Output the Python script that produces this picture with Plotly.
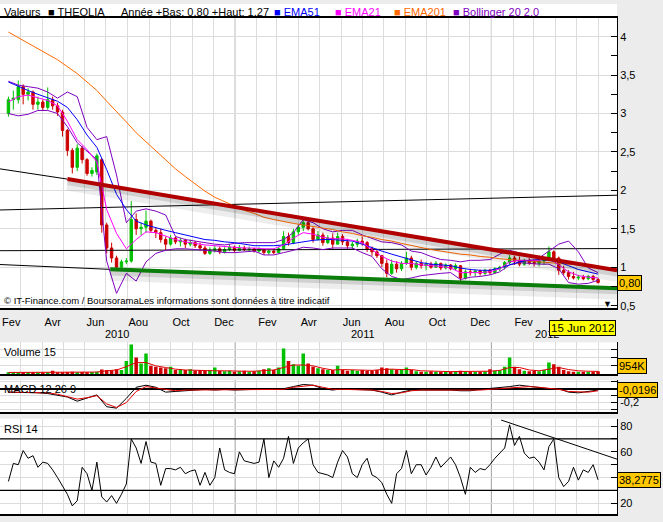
import pandas as pd
import plotly.graph_objects as go

# weekly bars (friday), indicators sampled every 2 weeks
week_dates = pd.date_range("2010-02-12", periods=121, freq="7D")
ind_dates = week_dates[::2]

opens = [3.00, 3.18, 3.18, 3.35, 3.25, 3.28, 3.12, 3.15, 3.08, 3.18,
         3.10, 3.02, 2.78, 2.52, 2.30, 2.55, 2.40, 2.22, 2.24, 2.40,
         1.55, 1.25, 1.12, 1.00, 1.07, 1.08, 1.62, 1.50, 1.52, 1.60,
         1.48, 1.45, 1.36, 1.30, 1.38, 1.33, 1.35, 1.30, 1.32, 1.28,
         1.25, 1.18, 1.22, 1.24, 1.20, 1.23, 1.26, 1.22, 1.25, 1.23,
         1.24, 1.21, 1.23, 1.19, 1.21, 1.19, 1.24, 1.40, 1.32, 1.46,
         1.52, 1.58, 1.50, 1.36, 1.42, 1.32, 1.38, 1.30, 1.40, 1.33,
         1.28, 1.30, 1.34, 1.32, 1.24, 1.20, 1.15, 1.05, 0.92, 1.04,
         0.98, 1.05, 1.12, 1.00, 1.05, 1.02, 1.04, 1.00, 1.05, 0.99,
         1.03, 0.98, 1.02, 0.86, 0.94, 0.93, 0.95, 0.92, 0.96, 0.93,
         0.98, 1.00, 1.06, 1.12, 1.08, 1.04, 1.09, 1.06, 1.05, 1.08,
         1.10, 1.20, 1.12, 0.96, 0.93, 0.88, 0.86, 0.87, 0.85, 0.88, 0.84]
highs = [3.22, 3.30, 3.43, 3.38, 3.33, 3.30, 3.22, 3.18, 3.34, 3.22,
         3.14, 3.05, 2.80, 2.55, 2.60, 2.58, 2.42, 2.30, 2.48, 2.42,
         1.58, 1.32, 1.15, 1.10, 1.12, 1.86, 1.70, 1.58, 1.74, 1.62,
         1.52, 1.50, 1.40, 1.42, 1.40, 1.38, 1.37, 1.36, 1.34, 1.32,
         1.28, 1.26, 1.28, 1.27, 1.26, 1.30, 1.28, 1.29, 1.28, 1.27,
         1.25, 1.26, 1.24, 1.23, 1.24, 1.26, 1.47, 1.45, 1.50, 1.56,
         1.62, 1.63, 1.52, 1.47, 1.45, 1.42, 1.44, 1.45, 1.43, 1.37,
         1.33, 1.37, 1.40, 1.34, 1.27, 1.24, 1.16, 1.10, 1.10, 1.08,
         1.08, 1.20, 1.15, 1.08, 1.10, 1.07, 1.07, 1.08, 1.06, 1.05,
         1.04, 1.05, 1.03, 0.97, 0.98, 0.97, 0.97, 0.98, 0.98, 1.00,
         1.02, 1.08, 1.16, 1.15, 1.14, 1.11, 1.12, 1.10, 1.10, 1.13,
         1.27, 1.22, 1.14, 1.02, 0.96, 0.94, 0.90, 0.90, 0.90, 0.90, 0.86]
lows = [2.96, 3.05, 3.13, 3.12, 3.17, 3.05, 3.05, 3.04, 3.05, 3.05,
        2.97, 2.70, 2.45, 2.22, 2.25, 2.35, 2.19, 2.18, 2.20, 1.45,
        1.18, 1.06, 0.97, 0.99, 1.04, 1.06, 1.42, 1.42, 1.45, 1.45,
        1.38, 1.32, 1.22, 1.28, 1.30, 1.27, 1.25, 1.27, 1.25, 1.22,
        1.16, 1.16, 1.19, 1.17, 1.18, 1.21, 1.19, 1.21, 1.21, 1.21,
        1.19, 1.19, 1.16, 1.16, 1.17, 1.18, 1.23, 1.28, 1.30, 1.42,
        1.47, 1.48, 1.32, 1.35, 1.28, 1.30, 1.24, 1.30, 1.29, 1.24,
        1.23, 1.26, 1.28, 1.20, 1.15, 1.12, 1.00, 0.87, 0.90, 0.93,
        0.95, 1.03, 0.96, 0.97, 0.98, 0.96, 0.98, 0.99, 0.96, 0.97,
        0.96, 0.96, 0.80, 0.84, 0.89, 0.88, 0.89, 0.90, 0.90, 0.92,
        0.95, 0.97, 1.04, 1.03, 1.01, 1.02, 1.03, 1.01, 1.01, 1.03,
        1.08, 1.08, 0.90, 0.90, 0.84, 0.84, 0.83, 0.83, 0.83, 0.82, 0.79]
closes = [3.18, 3.20, 3.35, 3.25, 3.28, 3.12, 3.15, 3.08, 3.18, 3.10,
          3.02, 2.78, 2.52, 2.30, 2.55, 2.40, 2.22, 2.26, 2.45, 1.55,
          1.25, 1.12, 1.00, 1.07, 1.08, 1.62, 1.50, 1.52, 1.60, 1.48,
          1.45, 1.36, 1.30, 1.38, 1.33, 1.35, 1.30, 1.32, 1.28, 1.25,
          1.18, 1.22, 1.24, 1.20, 1.23, 1.26, 1.22, 1.25, 1.23, 1.24,
          1.21, 1.23, 1.19, 1.21, 1.19, 1.24, 1.40, 1.32, 1.46, 1.52,
          1.58, 1.50, 1.36, 1.42, 1.32, 1.38, 1.30, 1.40, 1.33, 1.28,
          1.30, 1.34, 1.32, 1.24, 1.20, 1.15, 1.05, 0.92, 1.04, 0.98,
          1.05, 1.12, 1.00, 1.05, 1.02, 1.04, 1.00, 1.05, 0.99, 1.03,
          0.98, 1.02, 0.86, 0.94, 0.93, 0.95, 0.92, 0.96, 0.93, 0.98,
          1.00, 1.06, 1.12, 1.08, 1.04, 1.09, 1.06, 1.05, 1.08, 1.10,
          1.20, 1.12, 0.96, 0.93, 0.88, 0.86, 0.87, 0.85, 0.88, 0.84, 0.80]

volume_k = [150, 200, 150, 200, 150, 150, 200, 150, 200, 400,
            200, 200, 250, 300, 200, 250, 200, 250, 300, 550,
            500, 450, 600, 500, 1600, 3600, 2000, 1300, 2500, 1000,
            900, 800, 700, 900, 500, 600, 500, 600, 450, 500,
            400, 500, 800, 400, 350, 400, 300, 350, 400, 300,
            350, 400, 600, 700, 500, 800, 3100, 1600, 1200, 1000,
            2500, 1300, 900, 700, 600, 500, 500, 1000, 500, 400,
            500, 400, 500, 400, 450, 500, 800, 700, 600, 500,
            600, 800, 500, 350, 300, 300, 350, 300, 250, 300,
            300, 250, 400, 350, 300, 300, 300, 350, 600, 400,
            500, 900, 2000, 900, 600, 400, 350, 400, 350, 500,
            1400, 1200, 900, 500, 350, 300, 300, 300, 300, 300, 350]

rsi14 = [37, 51, 50, 61, 55, 57, 48, 52, 51, 46,
         40, 34, 27, 18, 22, 48, 43, 30, 52, 25,
         21, 26, 20, 27, 35, 70, 63, 51, 68, 52,
         51, 34, 47, 47, 46, 48, 43, 45, 46, 34,
         44, 34, 40, 63, 46, 44, 43, 60, 53, 52,
         51, 52, 70, 40, 53, 48, 55, 72, 51, 63,
         67, 70, 50, 44, 43, 42, 40, 52, 61, 56,
         43, 40, 50, 55, 42, 40, 36, 27, 20, 43,
         47, 61, 43, 50, 50, 42, 48, 56, 48, 52,
         56, 50, 40, 27, 48, 44, 47, 46, 50, 55,
         59, 63, 81, 65, 72, 59, 55, 56, 52, 46,
         64, 70, 40, 33, 37, 48, 38, 46, 44, 50, 38.28]

ema201 = [4.06, 3.99, 3.91, 3.85, 3.78, 3.70, 3.61, 3.52, 3.41, 3.30,
          3.16, 3.03, 2.89, 2.75, 2.63, 2.51, 2.39, 2.28, 2.18, 2.08,
          1.99, 1.91, 1.85, 1.79, 1.74, 1.70, 1.65, 1.62, 1.59, 1.57,
          1.55, 1.53, 1.51, 1.49, 1.46, 1.44, 1.41, 1.39, 1.36, 1.34,
          1.31, 1.28, 1.26, 1.23, 1.21, 1.19, 1.17, 1.16, 1.14, 1.13,
          1.11, 1.10, 1.09, 1.08, 1.07, 1.06, 1.05, 1.04, 1.03, 1.03, 1.02]
ema51 = [3.41, 3.35, 3.30, 3.25, 3.21, 3.16, 3.08, 2.92, 2.72, 2.56,
         2.27, 1.95, 1.75, 1.60, 1.55, 1.51, 1.48, 1.45, 1.42, 1.39,
         1.36, 1.35, 1.33, 1.32, 1.30, 1.28, 1.28, 1.28, 1.29, 1.31,
         1.33, 1.35, 1.36, 1.36, 1.35, 1.34, 1.30, 1.25, 1.21, 1.17,
         1.13, 1.09, 1.06, 1.04, 1.03, 1.02, 0.99, 0.97, 0.96, 0.96,
         0.99, 1.03, 1.07, 1.09, 1.10, 1.09, 1.07, 1.02, 0.97, 0.94, 0.91]
ema21 = [3.15, 3.22, 3.24, 3.20, 3.17, 3.10, 2.90, 2.66, 2.53, 2.37,
         1.75, 1.44, 1.24, 1.36, 1.46, 1.45, 1.40, 1.36, 1.33, 1.31,
         1.29, 1.28, 1.27, 1.26, 1.25, 1.25, 1.24, 1.24, 1.29, 1.38,
         1.45, 1.43, 1.39, 1.37, 1.37, 1.35, 1.32, 1.23, 1.14, 1.08,
         1.05, 1.05, 1.03, 1.02, 1.01, 0.99, 0.93, 0.93, 0.93, 0.94,
         0.98, 1.07, 1.09, 1.09, 1.09, 1.12, 1.03, 0.94, 0.89, 0.87, 0.86]
boll_up = [3.42, 3.37, 3.35, 3.33, 3.28, 3.20, 3.28, 3.22, 2.82, 2.66,
           2.70, 2.20, 1.58, 1.73, 1.76, 1.73, 1.68, 1.40, 1.36, 1.34,
           1.32, 1.30, 1.29, 1.31, 1.32, 1.32, 1.32, 1.32, 1.36, 1.45,
           1.62, 1.58, 1.50, 1.46, 1.48, 1.48, 1.42, 1.37, 1.33, 1.32,
           1.29, 1.21, 1.19, 1.14, 1.10, 1.09, 1.07, 1.09, 1.09, 1.10,
           1.17, 1.22, 1.19, 1.15, 1.12, 1.21, 1.30, 1.34, 1.20, 0.99, 0.93]
boll_low = [3.00, 2.97, 2.99, 3.04, 3.04, 3.00, 2.83, 2.62, 2.51, 2.40,
            1.08, 0.66, 0.92, 0.82, 1.07, 1.18, 1.22, 1.24, 1.24, 1.23,
            1.22, 1.21, 1.19, 1.19, 1.20, 1.21, 1.16, 1.16, 1.19, 1.22,
            1.26, 1.25, 1.23, 1.25, 1.25, 1.25, 1.19, 1.14, 0.98, 0.88,
            0.84, 0.86, 0.89, 0.91, 0.92, 0.93, 0.84, 0.87, 0.88, 0.90,
            0.94, 1.03, 1.06, 1.05, 1.04, 1.04, 0.98, 0.80, 0.78, 0.79, 0.83]
vol_ma_k = [200, 200, 200, 200, 200, 200, 200, 200, 220, 250,
            400, 500, 900, 1400, 1400, 1000, 800, 600, 500, 450,
            400, 400, 400, 350, 350, 350, 400, 500, 800, 1100,
            1100, 1000, 700, 500, 550, 500, 450, 450, 550, 600,
            550, 550, 400, 350, 300, 300, 320, 300, 300, 350,
            450, 800, 800, 500, 400, 600, 800, 550, 400, 350, 330]
macd_line = [-0.05, -0.05, -0.06, -0.06, -0.07, -0.09, -0.12, -0.18, -0.13, -0.09,
             -0.26, -0.28, -0.14, 0.02, 0.05, 0.02, -0.05, -0.04, -0.02, -0.01,
             -0.01, -0.02, -0.01, -0.02, -0.01, -0.01, -0.01, -0.01, 0.0, 0.03,
             0.06, 0.05, 0.0, -0.02, 0.0, -0.01, -0.01, -0.02, -0.05, -0.09,
             -0.05, -0.02, -0.02, -0.02, -0.01, -0.02, -0.03, -0.03, -0.01, 0.0,
             0.01, 0.03, 0.05, 0.03, 0.01, 0.0, 0.0, -0.05, -0.06, -0.04, -0.0196]
macd_signal = [-0.05, -0.05, -0.05, -0.06, -0.06, -0.08, -0.12, -0.15, -0.13, -0.10,
               -0.22, -0.27, -0.20, -0.04, 0.03, 0.01, -0.02, -0.03, -0.02, -0.02,
               -0.01, -0.01, -0.01, -0.02, -0.01, -0.01, -0.01, -0.01, -0.01, 0.02,
               0.04, 0.05, 0.02, -0.01, -0.01, -0.01, -0.01, -0.02, -0.04, -0.07,
               -0.06, -0.03, -0.02, -0.02, -0.02, -0.02, -0.02, -0.03, -0.02, -0.01,
               0.0, 0.02, 0.03, 0.03, 0.02, 0.01, -0.01, -0.04, -0.05, -0.05, -0.03]

# hand drawn lines on the chart
red_trend_dates = ["2010-05-07", "2012-06-28"]
red_trend_vals = [2.147, 0.959]
red_ext_dates = ["2010-01-31", "2010-05-07"]
red_ext_vals = [2.28, 2.147]
green_trend_dates = ["2010-07-07", "2012-06-28"]
green_trend_vals = [0.972, 0.726]
green_ext_dates = ["2010-01-31", "2010-07-07"]
green_ext_vals = [1.035, 0.972]
level_dates = ["2010-01-31", "2012-06-28"]
level_high_vals = [1.745, 1.937]
level_mid_vals = [1.215, 1.243]
rsi_trend_dates = ["2012-01-15", "2012-06-28"]
rsi_trend_vals = [84.7, 54.3]

x_range = ["2010-01-31", "2012-06-28"]
year_starts = ["2011-01-01", "2012-01-01"]
month_names = {2: "Fev", 4: "Avr", 6: "Jun", 8: "Aou", 10: "Oct", 12: "Dec"}
label_months = pd.date_range("2010-02-01", "2012-04-01", freq="2MS")
label_dates = label_months + pd.Timedelta(days=15)
label_text = [month_names[d.month] for d in label_months]

FONT = "Liberation Sans"
up_col, down_col = "#00c000", "#cc0000"
vol_colors = [up_col if c >= o else down_col for o, c in zip(opens, closes)]

fig = go.Figure()


def line(x, y, color, width=1, xa="x", ya="y"):
    fig.add_trace(go.Scatter(x=x, y=y, mode="lines", xaxis=xa, yaxis=ya,
                             line=dict(color=color, width=width), hoverinfo="skip"))


# level lines and extensions
line(level_dates, level_high_vals, "black")
line(level_dates, level_mid_vals, "black")
line(red_ext_dates, red_ext_vals, "black")
line(green_ext_dates, green_ext_vals, "black")

# indicators
line(ind_dates, boll_up, "#8000c0")
line(ind_dates, boll_low, "#8000c0")
line(ind_dates, ema201, "#ff6a00")
line(ind_dates, ema51, "#0000ff")
line(ind_dates, ema21, "#ff00ff")

fig.add_trace(go.Candlestick(
    x=week_dates, open=opens, high=highs, low=lows, close=closes,
    increasing=dict(line=dict(color=up_col, width=1), fillcolor=up_col),
    decreasing=dict(line=dict(color=down_col, width=1), fillcolor=down_col),
    whiskerwidth=0, hoverinfo="skip"))

# trend lines with a soft shadow
for dates, vals, col in [(red_trend_dates, red_trend_vals, "#b00000"),
                         (green_trend_dates, green_trend_vals, "#0a7d0a")]:
    line(dates, [v - 0.07 for v in vals], "rgba(0,0,0,0.07)", 12)
    line(dates, [v - 0.04 for v in vals], "rgba(0,0,0,0.12)", 6)
    line(dates, vals, col, 4)

# volume
fig.add_trace(go.Bar(x=week_dates, y=volume_k, marker=dict(color=vol_colors, line_width=0),
                     width=5 * 86400000, xaxis="x2", yaxis="y2", hoverinfo="skip"))
line(ind_dates, vol_ma_k, "#dd0000", 1, "x2", "y2")

# macd
line(ind_dates, macd_line, "black", 1, "x3", "y3")
line(ind_dates, macd_signal, "#e00000", 1, "x3", "y3")

# rsi
line(week_dates, rsi14, "black", 1, "x4", "y4")
line(rsi_trend_dates, rsi_trend_vals, "black", 1, "x4", "y4")

minor_grid = dict(dtick="M1", tick0="2010-01-01", showgrid=True, gridcolor="#dcdcdc", ticks="")
xbase = dict(type="date", range=x_range, showgrid=False, minor=minor_grid, ticks="",
             showline=True, linecolor="black", linewidth=1.5, zeroline=False)
ybase = dict(side="right", ticks="inside", ticklen=6, tickcolor="black", showline=True,
             linecolor="black", linewidth=1, showgrid=True, gridcolor="#dcdcdc", zeroline=False,
             tickfont=dict(size=11))

fig.update_layout(
    width=663, height=522, margin=dict(l=0, r=46, t=0, b=0),
    paper_bgcolor="#ececec", plot_bgcolor="white", showlegend=False,
    separators=", ", font=dict(family=FONT, size=11, color="black"),
    xaxis=dict(xbase, domain=[0, 1], anchor="y", rangeslider=dict(visible=False),
               tickvals=label_dates, ticktext=label_text, tickangle=0, mirror=True,
               ticklabelstandoff=3),
    xaxis2=dict(xbase, domain=[0, 1], anchor="y2", matches="x", showticklabels=False),
    xaxis3=dict(xbase, domain=[0, 1], anchor="y3", matches="x", showticklabels=False),
    xaxis4=dict(xbase, domain=[0, 1], anchor="y4", matches="x", showticklabels=False),
    yaxis=dict(ybase, domain=[0.4061, 0.9655], anchor="x", range=[0.474, 4.245],
               tickvals=[0.5, 1, 1.5, 2, 2.5, 3, 3.5, 4],
               ticktext=["0,5", "1", "1,5", "2", "2,5", "3", "3,5", "4"],
               minor=dict(tickvals=[0.75, 1.25, 1.75, 2.25, 2.75, 3.25, 3.75],
                          ticks="inside", ticklen=6, tickcolor="black", showgrid=False)),
    yaxis2=dict(ybase, domain=[0.2778, 0.3391], anchor="x2", range=[0, 3850],
                tickvals=[1000, 2000, 3000], showticklabels=False),
    yaxis3=dict(ybase, domain=[0.2050, 0.2663], anchor="x3", range=[-0.333, 0.124],
                tickvals=[-0.3, -0.2, -0.1, 0, 0.1], ticktext=["", "-0,2", "", "", ""],
                zeroline=True, zerolinecolor="black", zerolinewidth=1.5),
    yaxis4=dict(ybase, domain=[0.0077, 0.1916], anchor="x4", range=[11.7, 85.7],
                tickvals=[20, 30, 40, 50, 60, 70, 80],
                ticktext=["20", "", "40", "", "60", "", "80"]),
)

shapes = [dict(type="rect", xref="paper", yref="paper", x0=0, x1=1, y0=0.9655, y1=0.9923,
               fillcolor="white", line_width=0, layer="below")]
for xa, ya in [("x", "y"), ("x2", "y2"), ("x3", "y3"), ("x4", "y4")]:
    for d in year_starts:
        shapes.append(dict(type="line", xref=xa, yref=ya + " domain", x0=d, x1=d, y0=0, y1=1,
                           line=dict(color="#a0a0a0", width=1), layer="below"))
for lvl in [70, 30]:
    shapes.append(dict(type="line", xref="x4 domain", yref="y4", x0=0, x1=1, y0=lvl, y1=lvl,
                       line=dict(color="black", width=1.2)))
fig.update_layout(shapes=shapes)


def note(text, x, y, xref="paper", yref="paper", xanchor="left", **kw):
    fig.add_annotation(text=text, x=x, y=y, xref=xref, yref=yref, xanchor=xanchor,
                       yanchor="middle", showarrow=False, **kw)


legend_y = 0.977
note("Valeurs", 0.003, legend_y)
note("■ THEOLIA", 0.0746, legend_y)
note("Année +Bas: 0,80 +Haut: 1,27", 0.193, legend_y)
note("■ EMA51", 0.4408, legend_y, font=dict(color="#0000ff"))
note("■ EMA21", 0.5397, legend_y, font=dict(color="#ff00ff"))
note("■ EMA201", 0.6353, legend_y, font=dict(color="#ff6a00"))
note("■ Bollinger 20 2.0", 0.731, legend_y, font=dict(color="#8000c0"))

note("© IT-Finance.com / BoursoramaLes informations sont données à titre indicatif",
     0.004, 0.4195, font=dict(size=9.5))
note("▼", 0.984, 0.4138, xanchor="center", font=dict(size=9))

for yr, d in [("2010", "2010-07-17"), ("2011", "2011-07-02"), ("2012", "2012-03-20")]:
    note(yr, d, 0.3544, xref="x", xanchor="center")

note("Volume 15", 0.004, 0.3199)
note("MACD 12 26 9", 0.004, 0.249)
note("RSI 14", 0.004, 0.1724)

box = dict(bgcolor="#ffc800", bordercolor="black", borderwidth=1, borderpad=1,
           font=dict(size=11))
note("0,80", 1.0, 0.80, yref="y", **box)
note("954K", 1.0, 954, yref="y2", **box)
note("-0,0196", 1.0, -0.0196, yref="y3", **box)
note("38,2775", 1.0, 38.2775, yref="y4", **box)
note("15 Jun 2012", 0.998, 0.3669, xanchor="right", bgcolor="#ffff00",
     bordercolor="black", borderwidth=1, borderpad=1, font=dict(size=11.5))

fig.write_html("out.html", config={"displayModeBar": False},
               post_script="document.body.style.margin='0px';")
